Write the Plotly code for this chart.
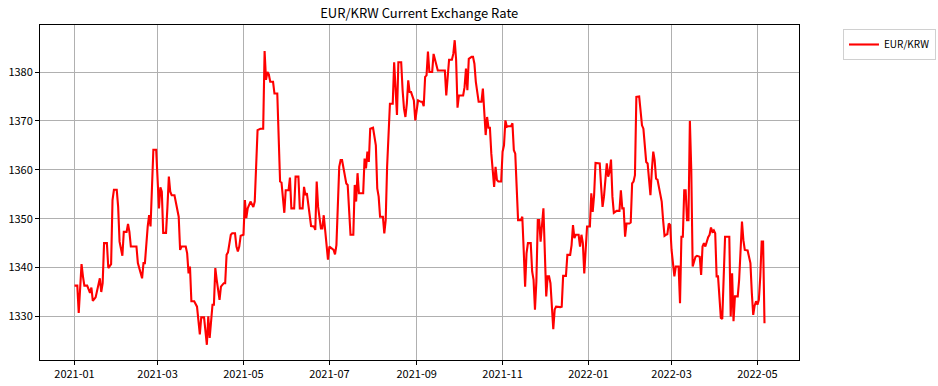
import pandas as pd
import plotly.graph_objects as go

start_date = "2021-01-01"
series_name = "EUR/KRW"
title_text = "EUR/KRW Current Exchange Rate"

day_offsets = [
    0, 2, 3, 5, 6, 7, 9, 11, 12, 13, 15, 18, 19, 20, 21, 23, 24, 26, 27, 28,
    30, 31, 32, 34, 35, 37, 38, 39, 40, 44, 45, 47, 48, 49, 50, 52, 53, 54, 56, 58,
    60, 61, 62, 63, 65, 66, 67, 68, 69, 71, 74, 75, 76, 79, 80, 81, 82, 83, 85, 87,
    89, 90, 92, 94, 95, 96, 98, 99, 100, 101, 103, 104, 106, 107, 108, 109, 111, 112, 114, 115,
    116, 117, 118, 120, 121, 122, 123, 125, 127, 128, 130, 132, 134, 135, 136, 137, 138, 139, 141, 142,
    144, 146, 147, 149, 150, 152, 153, 154, 156, 157, 159, 160, 162, 163, 164, 165, 166, 168, 170, 171,
    172, 173, 175, 176, 177, 178, 179, 180, 181, 183, 184, 185, 186, 188, 189, 190, 191, 193, 194, 195,
    196, 198, 199, 200, 201, 202, 205, 206, 207, 208, 209, 210, 212, 214, 215, 216, 217, 219, 220, 221,
    222, 224, 226, 227, 228, 229, 230, 232, 233, 234, 235, 236, 237, 238, 239, 241, 242, 243, 244, 246,
    247, 248, 249, 250, 251, 252, 254, 255, 256, 258, 263, 264, 266, 268, 269, 270, 271, 272, 273, 276,
    277, 278, 279, 280, 282, 283, 284, 285, 287, 289, 290, 291, 292, 293, 294, 295, 296, 298, 299, 300,
    301, 303, 304, 305, 306, 307, 308, 310, 311, 312, 313, 314, 315, 317, 318, 319, 320, 321, 322, 324,
    325, 326, 327, 328, 329, 330, 331, 333, 334, 335, 336, 337, 338, 339, 340, 341, 342, 345, 346, 347,
    349, 350, 352, 353, 354, 355, 356, 358, 359, 360, 361, 362, 363, 364, 366, 367, 368, 369, 370, 372,
    373, 374, 375, 376, 377, 378, 379, 380, 381, 382, 383, 385, 387, 388, 389, 390, 391, 392, 394, 395,
    396, 397, 398, 399, 401, 402, 403, 404, 405, 406, 407, 409, 410, 411, 412, 413, 414, 416, 417, 418,
    419, 420, 421, 422, 423, 424, 426, 427, 429, 430, 431, 432, 433, 434, 435, 436, 437, 438, 439, 441,
    442, 444, 445, 446, 447, 448, 449, 450, 451, 452, 453, 454, 455, 456, 457, 458, 459, 460, 461, 462,
    465, 466, 467, 468, 469, 471, 472, 473, 474, 475, 476, 478, 479, 480, 481, 482, 483, 484, 485, 486,
    487, 488, 489, 490,
]

rates = [
    1336.3, 1336.3, 1330.7, 1340.7, 1338.2, 1336.3, 1336.3, 1334.8, 1335.9, 1333.2, 1333.9, 1337.8, 1335.0, 1336.8, 1345.0, 1345.0, 1339.9, 1340.7, 1353.8, 1355.9,
    1355.9, 1352.4, 1345.3, 1342.4, 1347.3, 1347.3, 1348.9, 1347.3, 1344.3, 1344.3, 1340.9, 1338.8, 1337.8, 1340.9, 1340.9, 1348.4, 1350.7, 1348.4, 1364.1, 1364.1,
    1352.1, 1356.4, 1355.5, 1347.1, 1347.1, 1352.4, 1358.6, 1355.5, 1354.8, 1354.8, 1350.4, 1343.6, 1344.3, 1344.3, 1342.9, 1338.8, 1340.2, 1333.1, 1333.1, 1332.0,
    1326.3, 1329.8, 1329.8, 1324.2, 1330.0, 1325.6, 1332.4, 1332.4, 1339.9, 1337.5, 1333.4, 1336.1, 1336.8, 1336.8, 1342.6, 1343.1, 1346.7, 1347.0, 1347.0, 1344.3,
    1343.3, 1344.3, 1346.5, 1346.7, 1353.8, 1350.1, 1352.1, 1353.5, 1352.4, 1353.5, 1368.1, 1368.4, 1368.4, 1384.3, 1378.4, 1380.0, 1379.5, 1378.0, 1378.0, 1375.6,
    1375.6, 1357.6, 1357.4, 1351.2, 1355.8, 1355.8, 1358.4, 1352.1, 1352.1, 1358.6, 1358.6, 1352.1, 1352.1, 1356.5, 1354.8, 1355.2, 1353.1, 1348.5, 1348.4, 1347.7,
    1357.6, 1352.4, 1348.0, 1348.0, 1350.7, 1348.0, 1344.3, 1341.6, 1344.3, 1343.7, 1343.6, 1342.7, 1344.6, 1360.6, 1362.0, 1362.0, 1360.6, 1357.2, 1356.9, 1350.4,
    1346.7, 1346.7, 1356.9, 1353.5, 1359.3, 1355.2, 1355.2, 1362.3, 1360.3, 1363.7, 1361.6, 1368.4, 1368.6, 1365.0, 1356.2, 1354.5, 1350.4, 1350.4, 1347.0, 1349.7,
    1360.6, 1373.5, 1373.5, 1382.0, 1376.9, 1371.2, 1382.0, 1382.0, 1376.3, 1372.5, 1370.8, 1373.5, 1378.3, 1375.9, 1375.9, 1374.2, 1370.1, 1372.7, 1374.2, 1373.9,
    1373.9, 1373.0, 1379.0, 1379.3, 1384.2, 1380.0, 1380.0, 1383.7, 1382.4, 1380.3, 1380.3, 1375.2, 1382.5, 1382.5, 1383.7, 1386.5, 1382.5, 1372.7, 1375.2, 1375.2,
    1376.9, 1380.7, 1376.3, 1382.7, 1383.1, 1383.1, 1381.7, 1378.0, 1373.9, 1373.9, 1376.6, 1370.8, 1367.1, 1370.8, 1368.6, 1368.6, 1363.3, 1356.5, 1360.6, 1357.9,
    1357.6, 1357.6, 1363.7, 1365.0, 1370.1, 1368.8, 1368.9, 1368.9, 1369.5, 1364.0, 1363.3, 1356.5, 1349.7, 1349.7, 1350.4, 1343.6, 1336.1, 1342.9, 1345.0, 1345.0,
    1339.2, 1337.5, 1331.4, 1337.2, 1349.7, 1349.7, 1345.3, 1352.1, 1344.3, 1334.1, 1338.2, 1338.2, 1336.8, 1330.7, 1327.4, 1331.4, 1332.0, 1331.9, 1332.0, 1338.3,
    1338.3, 1342.6, 1342.6, 1344.6, 1348.7, 1346.0, 1346.7, 1346.7, 1344.3, 1346.7, 1345.0, 1338.8, 1345.3, 1348.4, 1348.4, 1355.2, 1351.4, 1354.8, 1361.4, 1361.3,
    1361.3, 1356.5, 1352.4, 1354.5, 1358.6, 1361.3, 1358.6, 1359.6, 1362.1, 1354.5, 1351.2, 1351.6, 1351.6, 1355.8, 1352.1, 1352.1, 1346.3, 1349.0, 1349.0, 1349.2,
    1357.2, 1357.6, 1358.9, 1374.9, 1375.0, 1371.5, 1369.1, 1368.4, 1364.7, 1361.6, 1361.3, 1354.8, 1359.9, 1363.7, 1361.9, 1358.2, 1358.0, 1354.5, 1353.5, 1349.7,
    1346.5, 1346.7, 1346.8, 1349.0, 1348.7, 1343.6, 1338.2, 1340.2, 1340.2, 1332.7, 1346.3, 1346.3, 1355.8, 1355.8, 1349.7, 1349.7, 1370.0, 1359.9, 1340.2, 1342.2,
    1342.4, 1342.2, 1338.5, 1344.3, 1345.0, 1344.3, 1345.6, 1346.2, 1346.7, 1348.2, 1347.3, 1347.6, 1347.0, 1338.2, 1338.2, 1332.7, 1329.7, 1329.5, 1337.5, 1346.3,
    1346.3, 1330.0, 1338.8, 1329.0, 1334.1, 1334.1, 1337.5, 1343.3, 1349.4, 1345.6, 1343.6, 1343.5, 1341.9, 1340.9, 1334.8, 1330.3, 1332.2, 1333.1, 1332.4, 1333.4,
    1338.2, 1345.3, 1345.3, 1328.6,
]

x_tick_values = ["2021-01-01", "2021-03-01", "2021-05-01", "2021-07-01", "2021-09-01",
                 "2021-11-01", "2022-01-01", "2022-03-01", "2022-05-01"]
x_tick_labels = ["2021-01", "2021-03", "2021-05", "2021-07", "2021-09",
                 "2021-11", "2022-01", "2022-03", "2022-05"]
y_tick_values = [1330, 1340, 1350, 1360, 1370, 1380]

t0 = pd.Timestamp(start_date)
dates = t0 + pd.to_timedelta(day_offsets, unit="D")

# matplotlib-like 5% autoscale margins
xmin, xmax = dates.min(), dates.max()
xpad = (xmax - xmin) * 0.05
ymin, ymax = min(rates), max(rates)
ypad = (ymax - ymin) * 0.05

FONT = "Noto Sans CJK KR"
W, H = 938, 386
L, R, T, B = 39.5, 139, 25, 26

fig = go.Figure()
fig.add_trace(go.Scatter(
    x=dates, y=rates, mode="lines", name=series_name,
    line=dict(color="#ff0000", width=2.1),
))

axis_common = dict(
    showline=True, linecolor="black", linewidth=1, mirror=True,
    ticks="outside", ticklen=4, tickcolor="black", tickwidth=1,
    showgrid=True, gridcolor="#b0b0b0", gridwidth=0.8,
    zeroline=False, automargin=False,
    tickfont=dict(family=FONT, size=11, color="black"),
)

plot_w = W - L - R
plot_h = H - T - B

fig.update_layout(
    width=W, height=H,
    margin=dict(l=L, r=R, t=T, b=B, pad=0, autoexpand=False),
    paper_bgcolor="white", plot_bgcolor="white",
    title=dict(text=title_text, x=(L + (W - R)) / 2 / W, xanchor="center",
               y=1 - 13 / H, yanchor="middle",
               font=dict(family=FONT, size=13, color="black")),
    showlegend=True,
    legend=dict(x=(843 - L) / plot_w, y=(H - B - 29) / plot_h,
                xanchor="left", yanchor="top",
                bgcolor="white", bordercolor="#d0d0d0", borderwidth=1,
                itemwidth=30, tracegroupgap=0,
                font=dict(family=FONT, size=10, color="black")),
    xaxis=dict(axis_common, type="date",
               range=[xmin - xpad, xmax + xpad],
               tickmode="array", tickvals=x_tick_values, ticktext=x_tick_labels),
    yaxis=dict(axis_common, range=[ymin - ypad, ymax + ypad],
               tickmode="array", tickvals=y_tick_values,
               ticktext=[str(v) for v in y_tick_values]),
)

fig.write_html(
    "out.html",
    config={"displayModeBar": False},
    post_script="document.body.style.margin='0';document.body.style.overflow='hidden';",
)
